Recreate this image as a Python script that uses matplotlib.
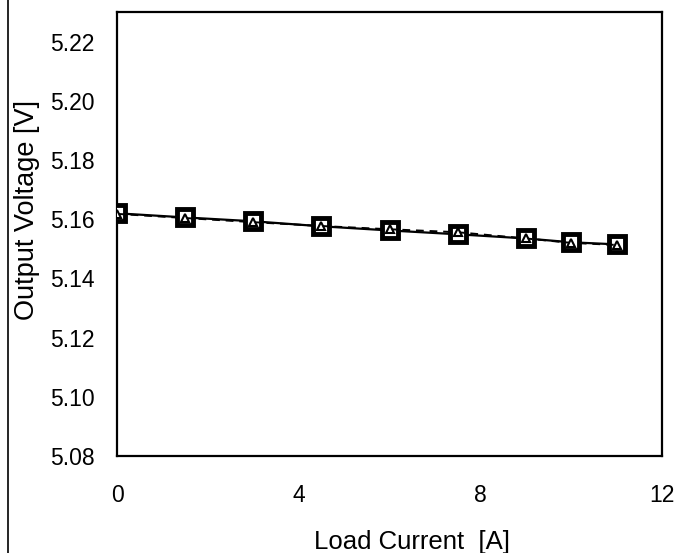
import numpy as np
import matplotlib
matplotlib.use('Agg')
import matplotlib.pyplot as plt
from matplotlib.lines import Line2D

plt.rcParams['font.family'] = ['Liberation Sans', 'DejaVu Sans']

# load current [A]
current = [0, 1.5, 3, 4.5, 6, 7.5, 9, 10, 11]
# output voltage, two measurement runs
v_square = [5.1620, 5.1606, 5.1593, 5.1576, 5.1562, 5.1549, 5.1535, 5.1522, 5.1515]
v_triangle = [5.1618, 5.1604, 5.1590, 5.1577, 5.1566, 5.1556, 5.1535, 5.1520, 5.1513]

xticks = [0, 4, 8, 12]
yticks = [5.08, 5.10, 5.12, 5.14, 5.16, 5.18, 5.20, 5.22]

fig = plt.figure(figsize=(6.74, 5.53), dpi=100)
ax = fig.add_axes([117/674, 1-456/553, (662-117)/674, (456-12)/553])

ax.plot(current, v_square, color='black', lw=1.6, ls='-', marker='s', ms=12,
        mfc='white', mec='black', mew=3.5, zorder=3)
ax.plot(current, v_triangle, color='black', lw=1.4, ls=(0, (4, 3)), marker='^', ms=6,
        mfc='white', mec='black', mew=1.5, zorder=4)

ax.set_xlim(0, 12)
ax.set_ylim(5.08, 5.23)
ax.set_xticks(xticks)
ax.set_yticks(yticks)
ax.set_yticklabels(['%.2f' % v for v in yticks])
ax.tick_params(length=0, labelsize=16.5)
ax.tick_params(axis='y', pad=16)
ax.tick_params(axis='x', pad=20)
for s in ax.spines.values():
    s.set_linewidth(1.6)

ax.set_xlabel('Load Current  [A]', fontsize=18.5, va='top')
ax.xaxis.set_label_coords(0.541, -0.166)
ax.set_ylabel('Output Voltage [V]', fontsize=19.5)
ax.yaxis.set_label_coords(-0.141, 0.554)

# scanned page frame on the left
fig.add_artist(Line2D([8/674, 8/674], [0, 1], color='black', lw=1.2, transform=fig.transFigure))

fig.savefig('out.png', dpi=100)
